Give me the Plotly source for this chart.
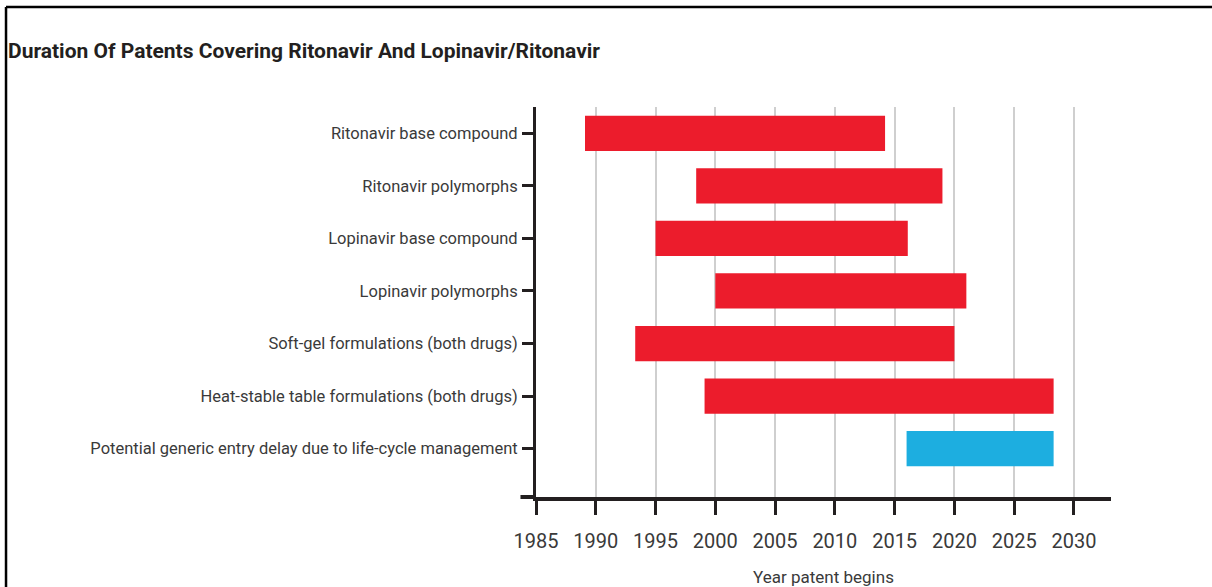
import plotly.graph_objects as go

categories = [
    "Ritonavir base compound",
    "Ritonavir polymorphs",
    "Lopinavir base compound",
    "Lopinavir polymorphs",
    "Soft-gel formulations (both drugs)",
    "Heat-stable table formulations (both drugs)",
    "Potential generic entry delay due to life-cycle management",
]
start_year = [1989.1, 1998.4, 1995.0, 2000.0, 1993.3, 1999.1, 2016.0]
end_year = [2014.2, 2019.0, 2016.1, 2021.0, 2020.0, 2028.3, 2028.3]
bar_colors = ["#EC1C2C"] * 6 + ["#1DAEE0"]
tick_years = [1985, 1990, 1995, 2000, 2005, 2010, 2015, 2020, 2025, 2030]

FONT = "Roboto, Liberation Sans, sans-serif"
DARK = "#231f20"
TXT = "#3a3a3a"

durations = [e - s for s, e in zip(start_year, end_year)]

fig = go.Figure()
fig.add_trace(go.Bar(
    y=categories,
    x=durations,
    base=start_year,
    orientation="h",
    width=0.67,
    marker=dict(color=bar_colors, line=dict(width=0)),
    hoverinfo="skip",
))

fig.update_layout(
    width=1212, height=587,
    margin=dict(l=536, r=101, t=107, b=90),
    plot_bgcolor="white", paper_bgcolor="white",
    showlegend=False,
    font=dict(family=FONT, color=TXT),
    title=dict(
        text="<b>Duration Of Patents Covering Ritonavir And Lopinavir/Ritonavir</b>",
        x=8/1212, xanchor="left", xref="container",
        y=1 - 51/587, yanchor="middle",
        font=dict(family=FONT, size=21, color=DARK),
    ),
    xaxis=dict(
        range=[1985, 2033.1],
        tickvals=tick_years,
        ticktext=[str(t) for t in tick_years],
        showgrid=True, gridcolor="#cfcfcf", gridwidth=1.5,
        zeroline=False,
        showline=True, linecolor=DARK, linewidth=4,
        ticks="outside", ticklen=14, tickwidth=3, tickcolor=DARK,
        ticklabelstandoff=9,
        tickfont=dict(family=FONT, size=20, color=TXT),
        title=dict(text="Year patent begins", font=dict(family=FONT, size=17, color=TXT), standoff=24),
        automargin=False,
    ),
    yaxis=dict(
        categoryorder="array", categoryarray=categories,
        range=[6.92, -0.5],
        showgrid=False, zeroline=False,
        showline=True, linecolor=DARK, linewidth=3,
        ticks="outside", ticklen=11, tickwidth=3, tickcolor=DARK,
        ticklabelstandoff=1,
        tickfont=dict(family=FONT, size=16.5, color=TXT),
        automargin=False,
    ),
)

# left extension of x-axis line
fig.add_shape(type="line", xref="paper", yref="paper", x0=-0.027, x1=0, y0=0, y1=0,
              line=dict(color=DARK, width=4))
# frame border (top and left)
fig.add_shape(type="line", xref="paper", yref="paper", x0=-0.9217, x1=1.18, y0=1.2564, y1=1.2564,
              line=dict(color="black", width=2.5))
fig.add_shape(type="line", xref="paper", yref="paper", x0=-0.9217, x1=-0.9217, y0=1.2564, y1=-0.3,
              line=dict(color="black", width=2.5))

fig.write_html("out.html", config={"displayModeBar": False},
               post_script="document.body.style.margin='0px';document.body.style.overflow='hidden';")
